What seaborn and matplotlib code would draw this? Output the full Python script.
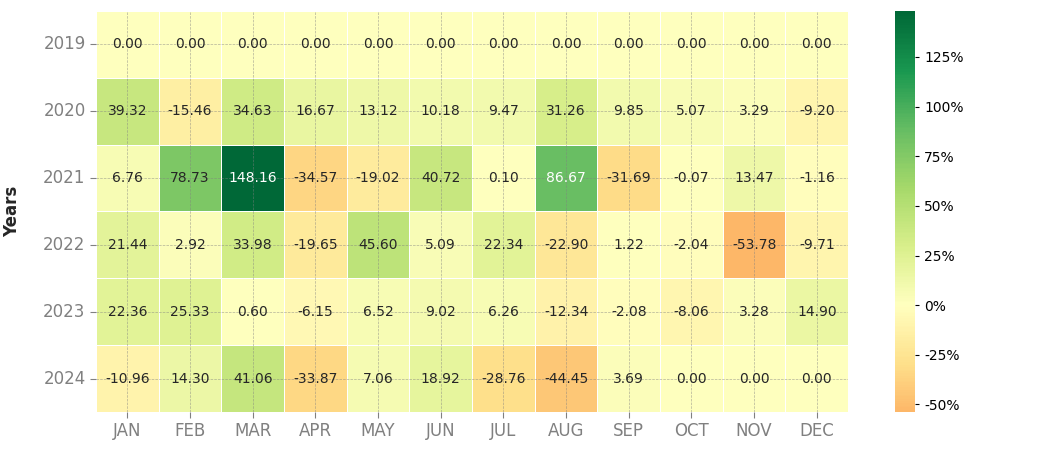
import matplotlib
matplotlib.use("Agg")
import matplotlib.pyplot as plt
import seaborn as sns
import pandas as pd
import numpy as np

years = ["2019", "2020", "2021", "2022", "2023", "2024"]
months = ["JAN", "FEB", "MAR", "APR", "MAY", "JUN", "JUL", "AUG", "SEP", "OCT", "NOV", "DEC"]

r2019 = [0.00, 0.00, 0.00, 0.00, 0.00, 0.00, 0.00, 0.00, 0.00, 0.00, 0.00, 0.00]
r2020 = [39.32, -15.46, 34.63, 16.67, 13.12, 10.18, 9.47, 31.26, 9.85, 5.07, 3.29, -9.20]
r2021 = [6.76, 78.73, 148.16, -34.57, -19.02, 40.72, 0.10, 86.67, -31.69, -0.07, 13.47, -1.16]
r2022 = [21.44, 2.92, 33.98, -19.65, 45.60, 5.09, 22.34, -22.90, 1.22, -2.04, -53.78, -9.71]
r2023 = [22.36, 25.33, 0.60, -6.15, 6.52, 9.02, 6.26, -12.34, -2.08, -8.06, 3.28, 14.90]
r2024 = [-10.96, 14.30, 41.06, -33.87, 7.06, 18.92, -28.76, -44.45, 3.69, 0.00, 0.00, 0.00]

df = pd.DataFrame([r2019, r2020, r2021, r2022, r2023, r2024], index=years, columns=months)

sns.set_style("white")
fig = plt.figure(figsize=(10.51, 4.55), dpi=100)
ax = fig.add_axes([0.0913, 0.0945, 0.7157, 0.8815])
cax = fig.add_axes([0.8516, 0.0945, 0.019, 0.8815])

sns.heatmap(df, ax=ax, cbar_ax=cax, annot=True, center=0, fmt="0.2f",
            annot_kws={"size": 10}, linewidths=0.5, linecolor="white",
            cmap="RdYlGn", cbar=True, cbar_kws={"format": "%.0f%%"})

ax.set_axisbelow(False)
ax.grid(True, linestyle="--", color="gray", linewidth=0.5, alpha=0.6, zorder=5)
ax.tick_params(axis="both", colors="#808080", labelsize=12, length=4, width=0.8, left=True, bottom=True)
ax.set_yticklabels(years, rotation=0, color="#808080", fontsize=12)
ax.set_xticklabels(months, rotation=0, color="#808080", fontsize=12)
ax.set_ylabel("Years", fontweight="bold", fontsize=12, labelpad=16)
ax.set_xlabel("")

cax.tick_params(labelsize=10, colors="black", length=3)
for s in cax.spines.values():
    s.set_visible(False)

fig.savefig("out.png", dpi=100)
